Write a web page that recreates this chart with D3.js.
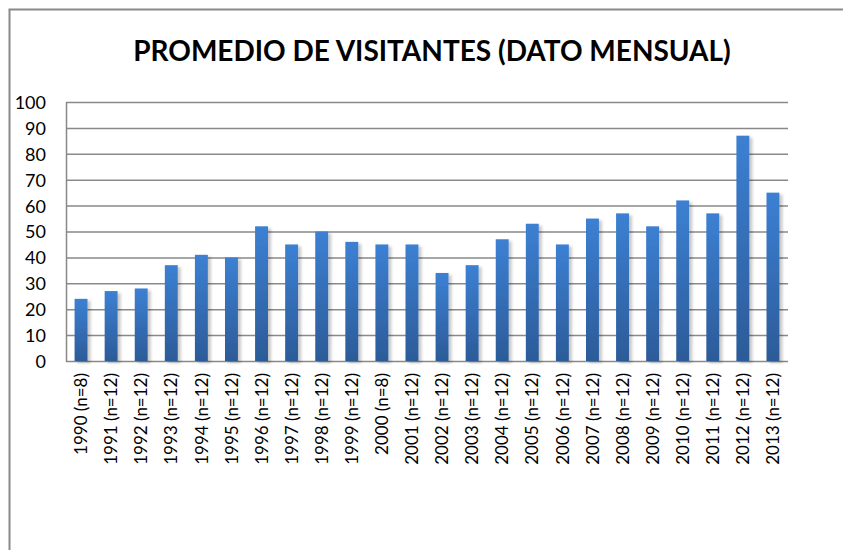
<!DOCTYPE html>
<html>
<head>
<meta charset="utf-8">
<script src="https://cdn.jsdelivr.net/npm/d3@7"></script>
<style>
  html, body { margin: 0; padding: 0; background: #fff; }
  svg { display: block; }
</style>
</head>
<body>
<svg id="chart" width="843" height="550"></svg>
<script>
const title = "PROMEDIO DE VISITANTES (DATO MENSUAL)";
const categories = ["1990 (n=8)", "1991 (n=12)", "1992 (n=12)", "1993 (n=12)", "1994 (n=12)", "1995 (n=12)",
  "1996 (n=12)", "1997 (n=12)", "1998 (n=12)", "1999 (n=12)", "2000 (n=8)", "2001 (n=12)",
  "2002 (n=12)", "2003 (n=12)", "2004 (n=12)", "2005 (n=12)", "2006 (n=12)", "2007 (n=12)",
  "2008 (n=12)", "2009 (n=12)", "2010 (n=12)", "2011 (n=12)", "2012 (n=12)", "2013 (n=12)"];
const values = [24, 27, 28, 37, 41, 40, 52, 45, 50, 46, 45, 45, 34, 37, 47, 53, 45, 55, 57, 52, 62, 57, 87, 65];
const yTicks = [0, 10, 20, 30, 40, 50, 60, 70, 80, 90, 100];

const svg = d3.select("#chart");
const font = "Lato, 'Noto Sans', sans-serif";

// outer frame
svg.append("rect")
  .attr("x", 9.5).attr("y", 9.5)
  .attr("width", 900).attr("height", 600)
  .attr("fill", "#fff").attr("stroke", "#898989").attr("stroke-width", 2);

const defs = svg.append("defs");
const grad = defs.append("linearGradient").attr("id", "barGrad")
  .attr("x1", 0).attr("y1", 0).attr("x2", 0).attr("y2", 1);
grad.append("stop").attr("offset", "0%").attr("stop-color", "#3c80d3");
grad.append("stop").attr("offset", "100%").attr("stop-color", "#2c5b98");

const filt = defs.append("filter").attr("id", "shadow")
  .attr("x", "-50%").attr("y", "-10%").attr("width", "200%").attr("height", "120%");
filt.append("feGaussianBlur").attr("in", "SourceAlpha").attr("stdDeviation", 1.6).attr("result", "b");
filt.append("feOffset").attr("in", "b").attr("dx", 3).attr("dy", 2).attr("result", "o");
filt.append("feComponentTransfer").attr("in", "o").attr("result", "s")
  .append("feFuncA").attr("type", "linear").attr("slope", 0.22);
const m = filt.append("feMerge");
m.append("feMergeNode").attr("in", "s");
m.append("feMergeNode").attr("in", "SourceGraphic");

const plot = { left: 66, right: 788, top: 102, bottom: 361 };

const x = d3.scaleBand().domain(categories).range([plot.left, plot.right]).paddingInner(0.57).paddingOuter(0.285);
const y = d3.scaleLinear().domain([0, 100]).range([plot.bottom, plot.top]);

// title
svg.append("text")
  .attr("x", 432).attr("y", 61)
  .attr("text-anchor", "middle")
  .attr("font-family", font).attr("font-weight", "bold").attr("font-size", 28)
  .attr("fill", "#000")
  .text(title);

// gridlines
svg.append("g").selectAll("line").data(yTicks).join("line")
  .attr("x1", plot.left).attr("x2", plot.right)
  .attr("y1", d => y(d) + 0.5).attr("y2", d => y(d) + 0.5)
  .attr("stroke", "#898989").attr("stroke-width", 1.5);

// y axis line
svg.append("line")
  .attr("x1", plot.left + 0.5).attr("x2", plot.left + 0.5)
  .attr("y1", plot.top).attr("y2", plot.bottom + 1)
  .attr("stroke", "#898989").attr("stroke-width", 1.5);

// y axis labels
const yAxis = d3.axisLeft(y).tickValues(yTicks).tickSize(0).tickPadding(0);
const gy = svg.append("g").attr("transform", `translate(${plot.left - 20},0)`).call(yAxis);
gy.select(".domain").remove();
gy.selectAll("text").attr("font-family", font).attr("font-size", 18).attr("fill", "#000").attr("dy", "0.36em");

// bars
svg.append("g").selectAll("rect").data(values).join("rect")
  .attr("x", (d, i) => x(categories[i]))
  .attr("y", d => y(d))
  .attr("width", x.bandwidth())
  .attr("height", d => plot.bottom - y(d))
  .attr("fill", "url(#barGrad)")
  .attr("filter", "url(#shadow)");

// x axis labels
const xAxis = d3.axisBottom(x).tickSize(0).tickPadding(0);
const gx = svg.append("g").attr("transform", `translate(0,${plot.bottom})`).call(xAxis);
gx.select(".domain").remove();
gx.selectAll("text")
  .attr("font-family", font).attr("font-size", 17).attr("fill", "#000")
  .attr("text-anchor", "end")
  .attr("transform", "rotate(-90)")
  .attr("x", -12).attr("y", 0).attr("dy", "0.36em");
</script>
</body>
</html>
